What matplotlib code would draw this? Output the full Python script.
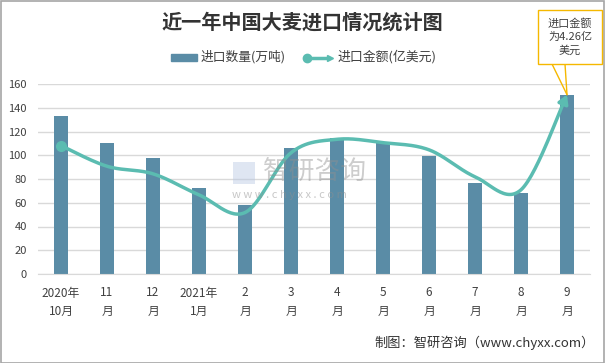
import numpy as np
import matplotlib
matplotlib.use("Agg")
import matplotlib.pyplot as plt
from matplotlib.patches import Rectangle

plt.rcParams['font.family'] = ['Noto Sans CJK SC', 'DejaVu Sans']

# data
months = ["2020年\n10月", "11\n月", "12\n月", "2021年\n1月", "2\n月", "3\n月",
          "4\n月", "5\n月", "6\n月", "7\n月", "8\n月", "9\n月"]
volume = [133.2, 110.5, 97.8, 72.5, 58.2, 106.2, 114.7, 110.2, 99.5, 76.7, 68.3, 150.9]  # 万吨
amount = [3.05, 2.56, 2.38, 1.88, 1.46, 2.88, 3.20, 3.12, 2.95, 2.31, 2.00, 4.26]  # 亿美元

bar_color = '#5A8CA6'
line_color = '#5BBCB1'

fig = plt.figure(figsize=(6.05, 3.63), dpi=100)
W, H = 605, 363
ax = fig.add_axes([38 / W, 1 - 274 / H, 552 / W, 190 / H])
x = np.arange(len(months))

ax.bar(x, volume, width=0.30, color=bar_color, zorder=2)
ax.set_xlim(-0.5, len(months) - 0.5)
ax.set_ylim(0, 160)
ax.set_yticks(range(0, 161, 20))
ax.grid(axis='y', color='#D9D9D9', linewidth=1, zorder=0)
for s in ['top', 'right', 'left']:
    ax.spines[s].set_visible(False)
ax.spines['bottom'].set_color('#D9D9D9')
ax.tick_params(length=0, labelsize=8, colors='#404040')
ax.tick_params(axis='y', pad=8)
ax.set_xticks(x)
ax.set_xticklabels(months, fontsize=8.5, linespacing=1.5)
ax.tick_params(axis='x', pad=9)

# secondary axis for amount (hidden), scaled so 4.26 sits at the top of the last bar
ax2 = ax.twinx()
ax2.set_ylim(0, 4.26 / 151 * 160)
ax2.axis('off')

# smooth curve (bezier through points, like spreadsheet smoothing)
px = x.astype(float)
py = np.array(amount)
cx, cy = [], []
n = len(px)
t = np.linspace(0, 1, 30)
for i in range(n - 1):
    p0 = np.array([px[max(i - 1, 0)], py[max(i - 1, 0)]])
    p1 = np.array([px[i], py[i]])
    p2 = np.array([px[i + 1], py[i + 1]])
    p3 = np.array([px[min(i + 2, n - 1)], py[min(i + 2, n - 1)]])
    c1 = p1 + (p2 - p0) / 6
    c2 = p2 - (p3 - p1) / 6
    for tt in t:
        pt = (1 - tt) ** 3 * p1 + 3 * (1 - tt) ** 2 * tt * c1 + 3 * (1 - tt) * tt ** 2 * c2 + tt ** 3 * p2
        cx.append(pt[0])
        cy.append(pt[1])
ax2.plot(cx[:-3], cy[:-3], color=line_color, linewidth=2.5, zorder=3, solid_capstyle='round')
ax2.plot(px[0], py[0], 'o', color=line_color, markersize=7, zorder=4)
ax2.annotate('', xy=(cx[-1], cy[-1]), xytext=(cx[-5], cy[-5]),
             arrowprops=dict(arrowstyle='-|>,head_length=0.5,head_width=0.3',
                             color=line_color, lw=2.5, shrinkA=0, shrinkB=0), zorder=4)

# title
fig.text(302 / W, 1 - 22 / H, '近一年中国大麦进口情况统计图', ha='center', va='center',
         fontsize=14.5, fontweight='bold', color='#333333')

# legend
fig.patches.append(Rectangle((171 / W, 1 - 61 / H), 26 / W, 7 / H, transform=fig.transFigure,
                             color=bar_color, figure=fig))
fig.text(201 / W, 1 - 57 / H, '进口数量(万吨)', ha='left', va='center', fontsize=9.2, color='#404040')
fig.lines.append(plt.Line2D([305 / W, 328 / W], [1 - 58 / H, 1 - 58 / H], transform=fig.transFigure,
                            color=line_color, lw=2.5, figure=fig))
fig.lines.append(plt.Line2D([307 / W], [1 - 58 / H], transform=fig.transFigure, marker='o',
                            markersize=6, color=line_color, figure=fig))
fig.lines.append(plt.Line2D([330 / W], [1 - 58 / H], transform=fig.transFigure, marker='>',
                            markersize=5, color=line_color, figure=fig))
fig.text(338 / W, 1 - 57 / H, '进口金额(亿美元)', ha='left', va='center', fontsize=9.3, color='#404040')

# watermark (semi-transparent, over the bars)
fig.text(263 / W, 1 - 172 / H, '智研咨询', ha='left', va='center', fontsize=18.5, color='#909090',
         alpha=0.45, zorder=10)
fig.text(232 / W, 1 - 195 / H, 'w w w . c h y x x . c o m', ha='left', va='center', fontsize=8,
         color='#909090', alpha=0.5, zorder=10)
fig.patches.append(Rectangle((233 / W, 1 - 184 / H), 22 / W, 22 / H, transform=fig.transFigure,
                             facecolor='#B8C8E4', edgecolor='none', alpha=0.45, figure=fig, zorder=10))

# callout
fig.patches.append(Rectangle((538 / W, 1 - 64 / H), 64 / W, 54 / H, transform=fig.transFigure,
                             facecolor='white', edgecolor='#F5B800', lw=1, figure=fig, zorder=5))
fig.text(570 / W, 1 - 37 / H, '进口金额\n为4.26亿\n美元', ha='center', va='center', fontsize=8,
         color='#404040', linespacing=1.4, zorder=6)
for bx in [552, 565]:
    ax2.annotate('', xy=(px[-1], py[-1]), xycoords='data',
                 xytext=(bx / W, 1 - 64 / H), textcoords='figure fraction',
                 arrowprops=dict(arrowstyle='-', color='#F5B800', lw=1, shrinkA=0, shrinkB=0))

# footer
fig.text(595 / W, 1 - 343 / H, '制图：智研咨询（www.chyxx.com）', ha='right', va='center',
         fontsize=9.5, color='#333333')

# border
fig.patches.append(Rectangle((0.5 / W, 0.5 / H), 1 - 1.5 / W, 1 - 1.5 / H, transform=fig.transFigure,
                             facecolor='none', edgecolor='#A6A6A6', lw=1.2, figure=fig))

fig.savefig('out.png', dpi=100)
